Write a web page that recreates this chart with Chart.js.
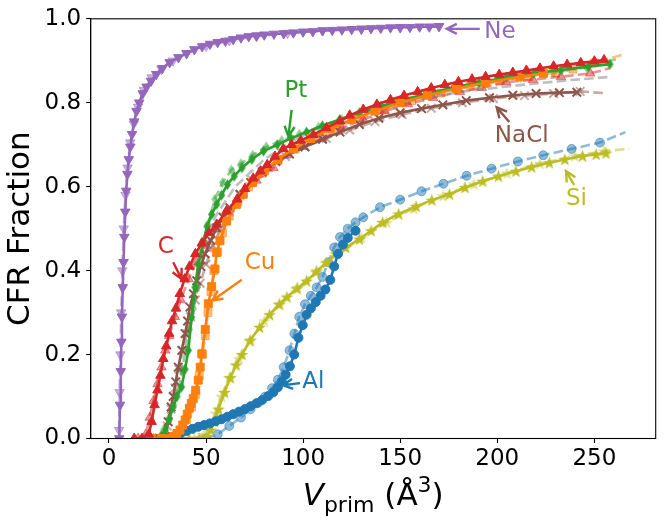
<!DOCTYPE html>
<html>
<head>
<meta charset="utf-8">
<script src="https://cdn.jsdelivr.net/npm/chart.js@4.4.1/dist/chart.umd.min.js"></script>
<style>
html, body { margin: 0; padding: 0; background: #fff; }
canvas { display: block; }
</style>
</head>
<body>
<canvas id="myChart" width="664" height="524"></canvas>
<script>
// ---- data (V_prim in A^3, CFR fraction) ----
const neV = [5.3, 5.7, 6.1, 6.4, 6.7, 7.1, 7.5, 7.9, 8.4, 8.9, 9.5, 10.2, 11.0, 11.9, 13.0, 14.2, 15.6, 17.4, 19.4, 21.7, 24.4, 27.5, 31.3, 35.8, 40, 44, 48, 52, 56, 60, 64, 68, 72, 76, 80, 85, 90, 95, 100, 105, 110, 115, 120, 125, 130, 135, 140, 145, 150, 155, 160, 165, 170]
const neF = [0.0, 0.08, 0.16, 0.23, 0.29, 0.36, 0.42, 0.48, 0.54, 0.59, 0.63, 0.665, 0.695, 0.725, 0.755, 0.78, 0.80, 0.822, 0.838, 0.852, 0.868, 0.882, 0.896, 0.908, 0.918, 0.927, 0.934, 0.94, 0.944, 0.947, 0.951, 0.955, 0.958, 0.96, 0.962, 0.964, 0.965, 0.967, 0.969, 0.970, 0.972, 0.973, 0.974, 0.975, 0.976, 0.977, 0.978, 0.979, 0.980, 0.980, 0.981, 0.981, 0.982]
const neFitV = [5.2, 5.5, 5.9, 6.3, 6.9, 7.6, 8.5, 9.6, 11, 12.8, 15, 18, 22, 27, 33, 40, 50, 62, 76, 92, 110, 130, 150, 170]
const neFitF = [0.02, 0.11, 0.20, 0.30, 0.40, 0.50, 0.58, 0.645, 0.705, 0.75, 0.79, 0.83, 0.86, 0.88, 0.90, 0.917, 0.935, 0.948, 0.958, 0.966, 0.972, 0.976, 0.979, 0.982]

const alV = [34, 37, 40, 43, 46, 49, 52, 55, 58, 61, 64, 67, 70, 73, 76, 79, 82, 84.6, 87, 89, 91, 93.2, 95.4, 97.6, 99.8, 101.8, 104, 106.5, 109, 111.5, 114, 116, 118, 120.5, 123, 127]
const alF = [0.005, 0.012, 0.018, 0.023, 0.028, 0.032, 0.036, 0.041, 0.046, 0.052, 0.058, 0.064, 0.07, 0.077, 0.084, 0.092, 0.101, 0.11, 0.122, 0.136, 0.152, 0.172, 0.2, 0.24, 0.27, 0.295, 0.31, 0.325, 0.34, 0.355, 0.378, 0.41, 0.44, 0.462, 0.478, 0.495]
const alFitV = [50, 56, 62, 68, 73, 77, 80.5, 84, 87, 90, 93, 95.5, 98, 101, 104, 107, 110, 113, 116, 119, 123, 127, 131, 139.6, 150, 161, 172.3, 184.2, 197.1, 210.6, 223.7, 238.3, 252.9, 266]
const alFitF = [0.0, 0.01, 0.03, 0.05, 0.07, 0.085, 0.10, 0.12, 0.14, 0.17, 0.21, 0.25, 0.29, 0.32, 0.34, 0.36, 0.385, 0.42, 0.455, 0.48, 0.50, 0.515, 0.527, 0.551, 0.569, 0.589, 0.607, 0.626, 0.643, 0.66, 0.675, 0.69, 0.705, 0.73]

const siV = [41.3, 46.4, 50.4, 52.4, 54.4, 56.4, 59.5, 62.5, 65.5, 68.5, 72.6, 77.6, 82.7, 87.7, 91.7, 96.8, 101.8, 106.8, 111.9, 116.9, 121.9, 129, 135, 141, 149.2, 158.2, 166.3, 175.4, 183.4, 192.5, 200.6, 209.6, 217.7, 226.8, 234.8, 243.9, 250.9, 256]
const siF = [0, 0, 0.005, 0.02, 0.04, 0.07, 0.11, 0.145, 0.175, 0.20, 0.233, 0.265, 0.295, 0.32, 0.337, 0.357, 0.375, 0.397, 0.419, 0.44, 0.455, 0.475, 0.495, 0.515, 0.535, 0.553, 0.568, 0.582, 0.598, 0.613, 0.625, 0.637, 0.647, 0.657, 0.665, 0.673, 0.677, 0.68]
const siFitV = [44, 49, 52, 55, 58, 62, 67, 73, 80, 88, 97, 107, 118, 130, 143, 157, 172, 188, 205, 222, 240, 255, 268]
const siFitF = [0, 0.01, 0.03, 0.06, 0.10, 0.145, 0.19, 0.235, 0.28, 0.32, 0.36, 0.40, 0.44, 0.478, 0.515, 0.548, 0.578, 0.606, 0.632, 0.655, 0.673, 0.685, 0.69]

const cV = [13, 17, 20.5, 22, 23.5, 25, 26.5, 28, 29.5, 31, 32.5, 34.5, 36.5, 39, 41.5, 44.5, 47.8, 51.5, 55.5, 60.5, 66, 70, 74.3, 78, 81.5, 85.5, 89.8, 94, 98.8, 105.3, 112, 119, 124, 131, 138, 145, 152, 159, 166, 173, 180, 187, 194, 201, 208, 215, 222, 229, 236, 243, 250, 255]
const cF = [0, 0, 0.01, 0.04, 0.08, 0.115, 0.15, 0.19, 0.22, 0.25, 0.28, 0.31, 0.345, 0.38, 0.41, 0.44, 0.465, 0.49, 0.51, 0.542, 0.57, 0.595, 0.62, 0.637, 0.652, 0.672, 0.69, 0.70, 0.71, 0.724, 0.74, 0.756, 0.77, 0.784, 0.796, 0.807, 0.817, 0.826, 0.835, 0.843, 0.85, 0.856, 0.862, 0.867, 0.872, 0.877, 0.882, 0.887, 0.891, 0.895, 0.899, 0.902]
const cFitV = [15, 19, 21, 23, 25, 27, 29, 31, 34, 37, 41, 45, 50, 55, 61, 68, 76, 84.7, 91.7, 99.8, 109.9, 119.9, 131, 142, 154, 167, 180.8, 192, 204.6, 218.4, 232.8, 247.9, 258]
const cFitF = [0, 0.01, 0.05, 0.09, 0.13, 0.17, 0.21, 0.245, 0.29, 0.33, 0.38, 0.42, 0.46, 0.50, 0.54, 0.58, 0.615, 0.645, 0.675, 0.695, 0.715, 0.74, 0.76, 0.78, 0.797, 0.812, 0.826, 0.836, 0.849, 0.855, 0.862, 0.87, 0.882]

const ptV = [23, 27, 29, 31, 33, 35, 37.4, 39.2, 40.9, 42.6, 44.3, 46, 48.6, 50.5, 52.9, 55.5, 58, 61, 64.5, 68.5, 73.6, 79.6, 86.7, 93.7, 101.8, 109.9, 118.9, 129, 140.1, 152.2, 164.3, 177.4, 190.5, 204.6, 218.7, 232.8, 246.9, 258]
const ptF = [0, 0.005, 0.02, 0.045, 0.075, 0.10, 0.123, 0.165, 0.21, 0.289, 0.36, 0.415, 0.47, 0.505, 0.534, 0.558, 0.58, 0.605, 0.625, 0.645, 0.665, 0.685, 0.70, 0.715, 0.73, 0.745, 0.76, 0.776, 0.792, 0.808, 0.822, 0.836, 0.848, 0.86, 0.87, 0.878, 0.886, 0.892]
const ptFitV = [24, 28, 31, 33.5, 35.5, 37.5, 39.5, 41.5, 43.5, 45.5, 48, 51, 54.5, 58.5, 63, 68, 74, 81, 89, 98, 108, 120, 133, 147, 162, 178, 195, 212, 229, 246, 262]
const ptFitF = [0, 0.02, 0.05, 0.08, 0.11, 0.16, 0.21, 0.26, 0.31, 0.36, 0.44, 0.51, 0.57, 0.61, 0.64, 0.655, 0.675, 0.695, 0.71, 0.725, 0.742, 0.76, 0.778, 0.797, 0.815, 0.832, 0.847, 0.86, 0.872, 0.884, 0.905]

const naclV = [26, 29, 30.5, 32, 33.1, 34.4, 35.7, 37.5, 39.2, 40.5, 41.7, 43.5, 45.2, 47.3, 49.5, 52.5, 55.5, 58.8, 62.3, 67.5, 73, 79, 86, 93, 101, 110, 119, 129, 139, 150, 161, 172, 184, 196, 208, 220, 232, 241]
const naclF = [0, 0.005, 0.04, 0.075, 0.10, 0.135, 0.17, 0.21, 0.25, 0.28, 0.313, 0.345, 0.376, 0.41, 0.44, 0.472, 0.502, 0.527, 0.55, 0.582, 0.61, 0.635, 0.66, 0.678, 0.695, 0.713, 0.73, 0.748, 0.763, 0.776, 0.786, 0.795, 0.805, 0.812, 0.818, 0.822, 0.824, 0.825]
const naclFitV = [27, 30, 32, 34, 36, 38, 40, 42, 44.5, 47, 50, 53.5, 57.5, 62, 67.5, 74, 82, 91, 101, 112, 124, 137, 151, 166, 182, 198, 214, 229, 242.7, 254.7]
const naclFitF = [0, 0.03, 0.07, 0.12, 0.165, 0.21, 0.25, 0.29, 0.33, 0.37, 0.415, 0.46, 0.5, 0.54, 0.58, 0.615, 0.645, 0.672, 0.695, 0.715, 0.735, 0.755, 0.772, 0.787, 0.80, 0.81, 0.817, 0.822, 0.827, 0.823]

const cuV = [22, 27, 31, 33.1, 35, 36.6, 38, 39.2, 40.3, 41.4, 42.4, 43.4, 44.7, 46, 47, 47.8, 49.6, 51.2, 52.9, 54.6, 55.5, 57.2, 60.6, 65.8, 69.2, 74, 80, 87, 95, 104, 114, 125, 137, 150, 164, 179, 194, 211.7, 223.8]
const cuF = [0, 0, 0, 0.005, 0.012, 0.02, 0.032, 0.044, 0.058, 0.072, 0.084, 0.095, 0.115, 0.139, 0.17, 0.202, 0.26, 0.321, 0.362, 0.404, 0.443, 0.471, 0.518, 0.558, 0.582, 0.61, 0.638, 0.665, 0.69, 0.715, 0.738, 0.76, 0.78, 0.80, 0.818, 0.834, 0.848, 0.862, 0.87]
const cuFitV = [24, 30, 34, 37, 40, 42.5, 44.5, 46.5, 48.2, 49.6, 51, 52.5, 54, 56, 58.5, 62, 66.5, 72, 79, 87, 96, 106, 117, 129, 142, 156, 171, 186, 201, 216, 230, 239, 250, 265]
const cuFitF = [0, 0, 0.005, 0.02, 0.045, 0.075, 0.105, 0.15, 0.2, 0.245, 0.3, 0.35, 0.4, 0.445, 0.49, 0.53, 0.565, 0.60, 0.632, 0.662, 0.69, 0.715, 0.74, 0.763, 0.785, 0.805, 0.823, 0.839, 0.852, 0.863, 0.872, 0.88, 0.895, 0.915]

const grayV = [45, 55, 65, 80, 95, 110, 125, 140, 155, 170, 185, 204, 220, 238, 259]
const grayF = [0.43, 0.53, 0.60, 0.665, 0.71, 0.745, 0.77, 0.79, 0.805, 0.818, 0.828, 0.838, 0.846, 0.854, 0.862]

const xTicks = [0, 50, 100, 150, 200, 250]
const yTicks = [0, 0.2, 0.4, 0.6, 0.8, 1.0]
const yTickLabels = ['0.0', '0.2', '0.4', '0.6', '0.8', '1.0']

// labels with arrows: text position, arrow tail, arrow tip (data coords)
const noteText = ['Ne', 'Pt', 'C', 'Cu', 'NaCl', 'Si', 'Al']
const noteX = [201.4, 96.3, 29.3, 77.8, 212.6, 240.8, 105.3]
const noteY = [0.969, 0.829, 0.457, 0.419, 0.72, 0.571, 0.135]
const tailX = [191, 94.1, 33.1, 68.4, 206.2, 239.6, 98.4]
const tailY = [0.976, 0.783, 0.42, 0.378, 0.754, 0.604, 0.132]
const tipX = [174, 92.4, 37.4, 53.3, 199.7, 235.4, 89.5]
const tipY = [0.976, 0.72, 0.38, 0.329, 0.789, 0.637, 0.127]

// ---- styling ----
const BLUE = '#1f77b4', ORANGE = '#ff7f0e', GREEN = '#2ca02c', RED = '#d62728'
const PURPLE = '#9467bd', BROWN = '#8c564b', GRAY = '#7f7f7f', OLIVE = '#bcbd22'
const noteColor = [PURPLE, GREEN, RED, ORANGE, BROWN, OLIVE, BLUE]
const FONT = 'DejaVu Sans'

Chart.defaults.font.family = FONT
Chart.defaults.color = '#000'

function rgba(hex, a) {
    const n = parseInt(hex.slice(1), 16)
    return 'rgba(' + (n >> 16) + ',' + ((n >> 8) & 255) + ',' + (n & 255) + ',' + a + ')'
}

function toPoints(xs, ys) {
    return xs.map((x, i) => ({x: x, y: ys[i]}))
}

function makeStar(color, alpha) {
    const c = document.createElement('canvas')
    c.width = 15; c.height = 15
    const g = c.getContext('2d')
    g.globalAlpha = alpha
    g.fillStyle = color
    g.beginPath()
    for (let i = 0; i < 10; i++) {
        const r = i % 2 === 0 ? 6.8 : 2.7
        const a = -Math.PI / 2 + i * Math.PI / 5
        g.lineTo(7.5 + r * Math.cos(a), 8 + r * Math.sin(a))
    }
    g.closePath()
    g.fill()
    return c
}

function makeThinDiamond(color, alpha) {
    const c = document.createElement('canvas')
    c.width = 9; c.height = 13
    const g = c.getContext('2d')
    g.globalAlpha = alpha
    g.fillStyle = color
    g.beginPath()
    g.moveTo(4.5, 1); g.lineTo(8, 6.5); g.lineTo(4.5, 12); g.lineTo(1, 6.5)
    g.closePath()
    g.fill()
    return c
}

function solidSeries(xs, ys, color, marker, radius, order, extra) {
    return Object.assign({
        data: toPoints(xs, ys),
        showLine: true,
        borderColor: color,
        backgroundColor: color,
        borderWidth: 2.6,
        pointStyle: marker,
        pointRadius: radius,
        pointBorderWidth: 1,
        order: order
    }, extra || {})
}

// faint dashed curve; the last point of the dashed line carries no marker
function fitSeries(xs, ys, color, marker, radius, order, extra) {
    return Object.assign({
        data: toPoints(xs, ys),
        showLine: true,
        borderColor: rgba(color, 0.5),
        backgroundColor: rgba(color, 0.5),
        borderWidth: 2.6,
        borderDash: [9.6, 4.2],
        pointStyle: marker,
        pointRadius: ctx => (ctx.dataIndex === xs.length - 1 ? 0 : radius),
        pointBorderWidth: 1,
        order: order
    }, extra || {})
}

const datasets = [
    solidSeries(cV, cF, RED, 'triangle', 5.5, 1),
    solidSeries(cuV, cuF, ORANGE, 'rect', 5.6, 2),
    solidSeries(ptV, ptF, GREEN, makeThinDiamond(GREEN, 1), 5, 3),
    solidSeries(naclV, naclF, BROWN, 'crossRot', 6, 4, {pointBorderWidth: 2}),
    solidSeries(alV, alF, BLUE, 'circle', 4.5, 5),
    solidSeries(siV, siF, OLIVE, makeStar(OLIVE, 1), 6, 6),
    solidSeries(neV, neF, PURPLE, 'triangle', 5.5, 7, {pointRotation: 180}),
    {
        data: toPoints(grayV, grayF),
        showLine: true,
        borderColor: rgba(GRAY, 0.5),
        borderWidth: 2.6,
        borderDash: [9.6, 4.2],
        pointRadius: 0,
        order: 9
    },
    fitSeries(cFitV, cFitF, RED, 'triangle', 5.5, 10),
    fitSeries(cuFitV, cuFitF, ORANGE, 'rect', 5.6, 11),
    fitSeries(ptFitV, ptFitF, GREEN, makeThinDiamond(GREEN, 0.5), 5, 12),
    fitSeries(naclFitV, naclFitF, BROWN, 'crossRot', 6, 13, {pointBorderWidth: 2}),
    fitSeries(alFitV, alFitF, BLUE, 'circle', 4.5, 14),
    fitSeries(siFitV, siFitF, OLIVE, makeStar(OLIVE, 0.5), 6, 15),
    fitSeries(neFitV, neFitF, PURPLE, 'triangle', 5.5, 16, {pointRotation: 180, pointRadius: 5.5})
]

// top/right spines like the matplotlib axes box
const framePlugin = {
    id: 'frame',
    afterDatasetsDraw(chart) {
        const ctx = chart.ctx, a = chart.chartArea
        ctx.save()
        ctx.strokeStyle = '#000'
        ctx.lineWidth = 1.1
        ctx.strokeRect(a.left, a.top, a.right - a.left, a.bottom - a.top)
        ctx.restore()
    }
}

const notesPlugin = {
    id: 'notes',
    afterDraw(chart) {
        const ctx = chart.ctx
        const xs = chart.scales.x, ys = chart.scales.y
        ctx.save()
        for (let i = 0; i < noteText.length; i++) {
            const color = noteColor[i]
            const x1 = xs.getPixelForValue(tailX[i]), y1 = ys.getPixelForValue(tailY[i])
            const x2 = xs.getPixelForValue(tipX[i]), y2 = ys.getPixelForValue(tipY[i])
            const ang = Math.atan2(y2 - y1, x2 - x1)
            const hl = 10, hw = 5
            const bx = x2 - hl * Math.cos(ang), by = y2 - hl * Math.sin(ang)
            ctx.strokeStyle = color
            ctx.lineWidth = 2.4
            ctx.lineJoin = 'miter'
            ctx.beginPath()
            ctx.moveTo(x1, y1)
            ctx.lineTo(x2, y2)
            ctx.moveTo(bx + hw * Math.sin(ang), by - hw * Math.cos(ang))
            ctx.lineTo(x2, y2)
            ctx.lineTo(bx - hw * Math.sin(ang), by + hw * Math.cos(ang))
            ctx.stroke()

            ctx.fillStyle = color
            ctx.font = '23px "' + FONT + '"'
            ctx.textAlign = 'center'
            ctx.textBaseline = 'middle'
            ctx.fillText(noteText[i], xs.getPixelForValue(noteX[i]), ys.getPixelForValue(noteY[i]))
        }
        ctx.restore()
    }
}

// x axis title with subscript and superscript: V_prim (Å^3)
const xTitlePlugin = {
    id: 'xTitle',
    afterDraw(chart) {
        const ctx = chart.ctx, a = chart.chartArea
        const big = 31, small = 22
        const parts = [
            {t: 'V', font: 'italic ' + big + 'px "' + FONT + '"', dy: 0},
            {t: 'prim', font: small + 'px "' + FONT + '"', dy: 7},
            {t: ' (Å', font: big + 'px "' + FONT + '"', dy: 0},
            {t: '3', font: small + 'px "' + FONT + '"', dy: -13},
            {t: ')', font: big + 'px "' + FONT + '"', dy: 0}
        ]
        ctx.save()
        let total = 0
        parts.forEach(p => { ctx.font = p.font; p.w = ctx.measureText(p.t).width; total += p.w })
        let x = (a.left + a.right) / 2 - total / 2
        const base = 505
        ctx.fillStyle = '#000'
        ctx.textAlign = 'left'
        ctx.textBaseline = 'alphabetic'
        parts.forEach(p => {
            ctx.font = p.font
            ctx.fillText(p.t, x, base + p.dy)
            x += p.w
        })
        ctx.restore()
    }
}

const config = {
    type: 'scatter',
    data: {datasets: datasets},
    options: {
        responsive: false,
        animation: false,
        layout: {padding: {top: 17, right: 8.3, left: 0, bottom: 0}},
        plugins: {
            legend: {display: false},
            tooltip: {enabled: false}
        },
        scales: {
            x: {
                type: 'linear',
                min: -9.4,
                max: 281.6,
                afterBuildTicks: axis => { axis.ticks = xTicks.map(v => ({value: v})) },
                afterFit: axis => { axis.height = 85.5 },
                ticks: {
                    font: {size: 23},
                    color: '#000',
                    padding: 2,
                    maxRotation: 0
                },
                grid: {
                    drawOnChartArea: false,
                    drawTicks: true,
                    tickLength: 4.5,
                    tickColor: '#000',
                    tickWidth: 1.1
                },
                border: {color: '#000', width: 1.1}
            },
            y: {
                type: 'linear',
                min: 0,
                max: 1,
                afterBuildTicks: axis => { axis.ticks = yTicks.map(v => ({value: v})) },
                afterFit: axis => { axis.width = 90.7 },
                ticks: {
                    font: {size: 23},
                    color: '#000',
                    padding: 5,
                    callback: (value, index) => yTickLabels[index]
                },
                title: {
                    display: true,
                    text: 'CFR Fraction',
                    font: {size: 31},
                    color: '#000',
                    padding: {top: 2, bottom: 0}
                },
                grid: {
                    drawOnChartArea: false,
                    drawTicks: true,
                    tickLength: 4.5,
                    tickColor: '#000',
                    tickWidth: 1.1
                },
                border: {color: '#000', width: 1.1}
            }
        }
    },
    plugins: [framePlugin, notesPlugin, xTitlePlugin]
}

var myChart = new Chart(document.getElementById('myChart'), config)
</script>
</body>
</html>
